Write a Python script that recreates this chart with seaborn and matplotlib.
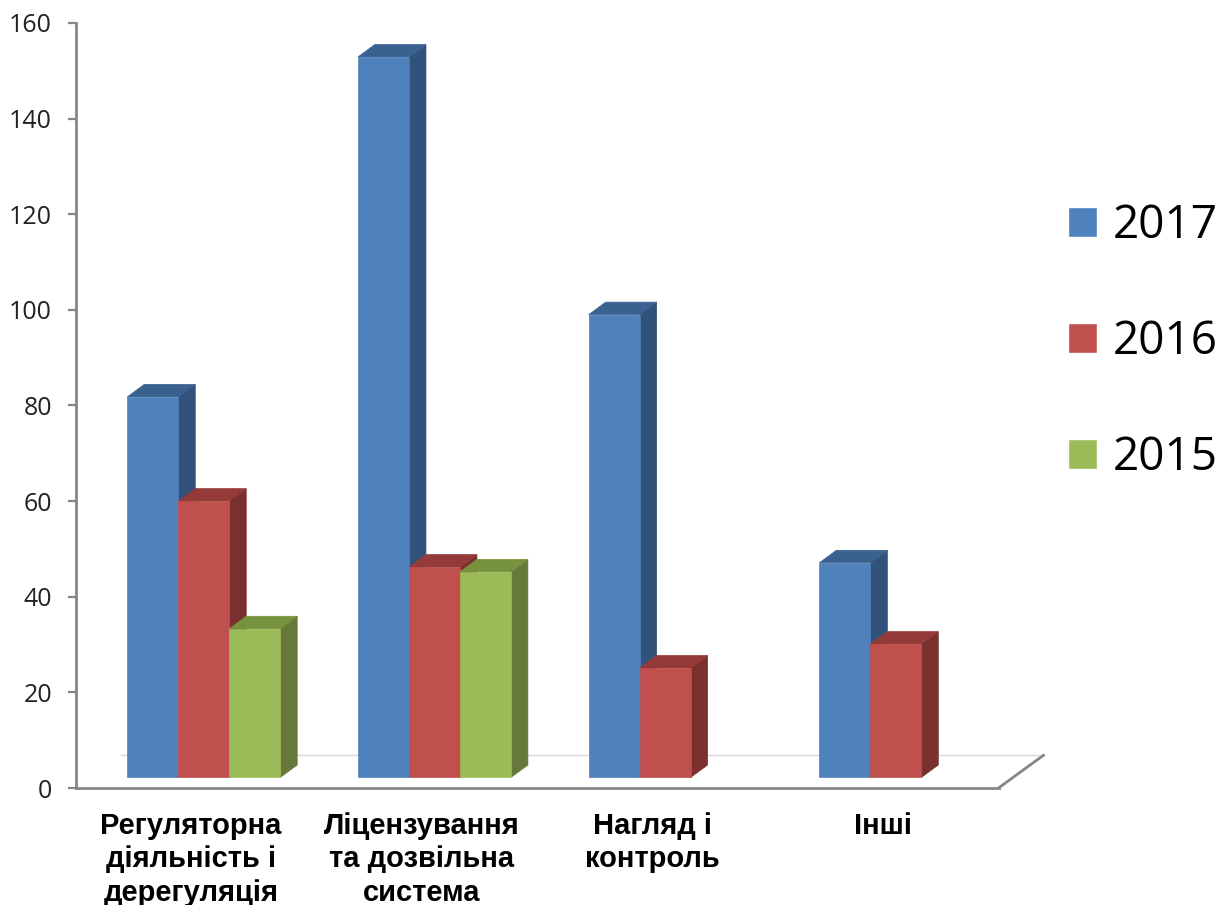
import matplotlib
matplotlib.use("Agg")
import matplotlib.pyplot as plt
from matplotlib.patches import Polygon
import numpy as np
import pandas as pd
import seaborn as sns

categories = ["Регуляторна\nдіяльність і\nдерегуляція", "Ліцензування\nта дозвільна\nсистема",
              "Нагляд і\nконтроль", "Інші"]
years = ["2017", "2016", "2015"]
values_2017 = [79.6, 150.7, 96.8, 44.9]
values_2016 = [57.8, 44.0, 22.9, 27.9]
values_2015 = [31.1, 43.0, np.nan, np.nan]
yticks = [0, 20, 40, 60, 80, 100, 120, 140, 160]

colors = ["#4F81BD", "#C0504D", "#9BBB59"]
side_colors = ["#31527A", "#7A302E", "#66783A"]
top_colors = ["#3B6191", "#943A38", "#76923C"]

df = pd.DataFrame({"category": categories, "2017": values_2017, "2016": values_2016, "2015": values_2015})
df = df.melt(id_vars="category", var_name="year", value_name="value").dropna()

sns.set_theme(style="white")
plt.rcParams["font.family"] = ["Open Sans", "DejaVu Sans"]

fig = plt.figure(figsize=(12.22, 9.05), dpi=100)
ax = fig.add_axes([75.5 / 1222, (905 - 788) / 905, 923 / 1222, 765 / 905])

sns.barplot(data=df, x="category", y="value", hue="year", order=categories, hue_order=years,
            palette=colors, saturation=1, width=0.663, gap=0, errorbar=None, ax=ax)

ax.set_xlim(-0.556, 3.445)
ax.set_ylim(0, 160)

# floor of the fake 3d box lifts the bars off the axis line
floor = 2.2
# depth of the 3d look, in data units
depth_x = 17 / 231
depth_y = 12.5 / 4.78

for i, container in enumerate(ax.containers):
    for bar in container:
        h = bar.get_height()
        if np.isnan(h) or h == 0:
            continue
        bar.set_y(floor)
        bar.set_edgecolor(colors[i])
        bar.set_linewidth(0.5)
        x0 = bar.get_x()
        x1 = x0 + bar.get_width()
        y0 = floor
        y1 = y0 + h
        z = 3 + i
        bar.set_zorder(z + 0.5)
        ax.add_patch(Polygon([(x1, y0), (x1 + depth_x, y0 + depth_y), (x1 + depth_x, y1 + depth_y), (x1, y1)],
                             facecolor=side_colors[i], edgecolor=side_colors[i], lw=0.5, zorder=z))
        ax.add_patch(Polygon([(x0, y1), (x0 + depth_x, y1 + depth_y), (x1 + depth_x, y1 + depth_y), (x1, y1)],
                             facecolor=top_colors[i], edgecolor=top_colors[i], lw=0.5, zorder=z))

# back edge and right edge of the floor
ax.plot([45 / 923, 1.049], [0.043, 0.043], transform=ax.transAxes, color="#D9D9D9", lw=1, clip_on=False, zorder=1)
ax.plot([1, 1.049], [0, 0.043], transform=ax.transAxes, color="#868686", lw=2, clip_on=False, zorder=1)

sns.despine(ax=ax)
for side in ["left", "bottom"]:
    ax.spines[side].set_color("#868686")
    ax.spines[side].set_linewidth(2)

ax.set_yticks(yticks)
ax.tick_params(axis="y", length=6, width=1.6, color="#868686", labelsize=18, labelcolor="#222222", pad=11, left=True)
ax.set_xticks(np.arange(len(categories)) - 0.056)
ax.set_xticklabels(categories, fontfamily="Liberation Sans", fontweight="bold", fontsize=21, color="black", linespacing=1.26)
ax.tick_params(axis="x", length=0, pad=17)
ax.set_xlabel("")
ax.set_ylabel("")

sns.move_legend(ax, "upper left", bbox_to_anchor=(1068 / 1222, (905 - 203) / 905),
                bbox_transform=fig.transFigure, frameon=False, title=None, fontsize=33,
                labelcolor="black", handlelength=0.63, handleheight=0.63, handletextpad=0.35,
                labelspacing=1.53, borderpad=0, borderaxespad=0)

fig.savefig("out.png", dpi=100)
